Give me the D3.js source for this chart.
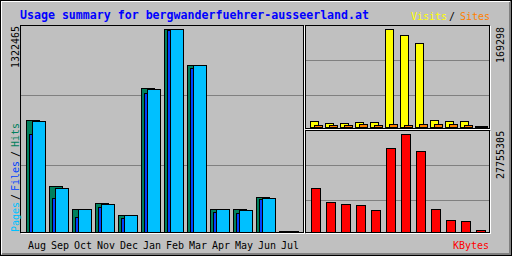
<!DOCTYPE html>
<html>
<head>
<meta charset="utf-8">
<script src="https://cdn.jsdelivr.net/npm/d3@7"></script>
<style>
  body { margin: 0; background: #fff; }
  svg { display: block; }
</style>
</head>
<body>
<script>
// monthly usage figures
const months = ["Aug", "Sep", "Oct", "Nov", "Dec", "Jan", "Feb", "Mar", "Apr", "May", "Jun", "Jul"];
const hits = [725000, 295000, 145000, 184000, 106000, 933000, 1322465, 1083000, 145000, 145500, 223000, 3100];
const files = [634000, 217000, 93000, 158000, 86000, 901000, 1311000, 1064000, 126000, 119000, 210000, 2600];
const pages = [718000, 282000, 144000, 178000, 105000, 927000, 1318000, 1082000, 144000, 139000, 217000, 2900];
const visits = [9100, 5700, 5600, 7400, 7300, 169298, 157700, 143900, 10800, 9000, 9100, 900];
const sites = [2500, 2200, 2100, 4200, 2600, 4300, 2900, 4100, 4200, 4000, 2700, 300];
const kbytes = [12260000, 8300000, 7730000, 7450000, 6030000, 23590000, 27755305, 22740000, 6310000, 3200000, 2920000, 370000];

const title = "Usage summary for bergwanderfuehrer-ausseerland.at";

const width = 512;
const height = 256;
const mono = "'DejaVu Sans Mono', monospace";

const col = {
  bg: "#c0c0c0", dk: "#808080",
  hit: "#00805c", file: "#0040ff", page: "#00c0ff",
  visit: "#ffff00", site: "#ff8000", kbyte: "#ff0000"
};

// gd style rectangle: covers pixel columns x1..x2 and rows y1..y2
const box = (x1, y1, x2, y2) => `M${x1 + 0.5},${y1 + 0.5}H${x2 + 0.5}V${y2 + 0.5}H${x1 + 0.5}Z`;
const hline = (x1, x2, y) => `M${x1},${y + 0.5}H${x2 + 1}`;
const vline = (x, y1, y2) => `M${x + 0.5},${y1}V${y2 + 1}`;

const svg = d3.select("body").append("svg")
  .attr("width", width)
  .attr("height", height);

const g = svg.append("g").attr("shape-rendering", "crispEdges");

// background + 3d border
g.append("rect").attr("width", width).attr("height", height).attr("fill", col.bg);
g.append("path").attr("d", box(0, 0, 511, 255)).attr("fill", "none").attr("stroke", "#000");
g.append("path").attr("d", hline(1, 509, 1) + vline(1, 1, 253)).attr("stroke", "#fff").attr("fill", "none");
g.append("path").attr("d", hline(2, 510, 253) + hline(2, 510, 254) + vline(509, 2, 254) + vline(510, 1, 254))
  .attr("stroke", col.dk).attr("fill", "none");

// grid lines
g.append("path")
  .attr("d", [95, 165].map(y => hline(21, 302, y)).join("") +
             [60, 95].map(y => hline(306, 488, y)).join("") +
             [165, 200].map(y => hline(306, 488, y)).join(""))
  .attr("stroke", col.dk).attr("fill", "none");

// frames
g.append("path")
  .attr("d", vline(20, 25, 232) + hline(20, 303, 25) + hline(20, 303, 232) + vline(303, 25, 232) +
             box(305, 25, 489, 128) + box(305, 130, 489, 232))
  .attr("stroke", "#000").attr("fill", "none");
g.append("path")
  .attr("d", hline(21, 304, 233) + vline(304, 26, 233) +
             hline(306, 490, 129) + vline(490, 26, 129) +
             hline(306, 490, 233) + vline(490, 131, 233))
  .attr("stroke", "#fff").attr("fill", "none");

// main graph: hits / files / pages
const x = d3.scaleBand().domain(months).range([26, 26 + 23 * 12]);
const y = d3.scaleLinear().domain([0, d3.max(hits)]).range([232, 29]);

const mainSeries = [
  { values: hits, off: 0, color: col.hit },
  { values: files, off: 3, color: col.file },
  { values: pages, off: 6, color: col.page }
];

mainSeries.forEach(s => {
  g.append("g")
    .selectAll("path")
    .data(months)
    .join("path")
    .attr("d", (m, i) => {
      const x1 = x(m) + s.off;
      return box(x1, Math.floor(y(s.values[i])), x1 + 13, 232);
    })
    .attr("fill", s.color)
    .attr("stroke", "#000");
});

// right graphs: visits / sites and kbytes
const xr = d3.scaleBand().domain(months).range([310, 310 + 15 * 12]);
const yv = d3.scaleLinear().domain([0, d3.max(visits)]).range([127, 29]);
const yk = d3.scaleLinear().domain([0, d3.max(kbytes)]).range([232, 134]);

const rightSeries = [
  { values: visits, off: 0, w: 8, ys: yv, base: 127, color: col.visit },
  { values: sites, off: 4, w: 8, ys: yv, base: 127, color: col.site },
  { values: kbytes, off: 1, w: 9, ys: yk, base: 232, color: col.kbyte }
];

rightSeries.forEach(s => {
  g.append("g")
    .selectAll("path")
    .data(months)
    .join("path")
    .attr("d", (m, i) => {
      const x1 = xr(m) + s.off;
      return box(x1, Math.floor(s.ys(s.values[i])), x1 + s.w, s.base);
    })
    .attr("fill", s.color)
    .attr("stroke", "#000");
});

// texts
const t = svg.append("g").attr("font-family", mono).attr("font-size", 10);

t.append("text")
  .attr("x", 20).attr("y", 19)
  .attr("font-size", 11.6).attr("font-weight", "bold")
  .attr("fill", "#0000ff")
  .text(title);

[["Visits", 411, col.visit], ["/", 449, "#000"], ["Sites", 460, col.site]].forEach(([s, px, c]) => {
  t.append("text").attr("x", px).attr("y", 20).attr("fill", c).text(s);
});

t.selectAll("text.month")
  .data(months)
  .join("text")
  .attr("class", "month")
  .attr("x", m => x(m) + 2)
  .attr("y", 249)
  .attr("fill", "#000")
  .text(m => m);

t.append("text").attr("x", 453).attr("y", 249).attr("fill", col.kbyte).text("KBytes");

// rotated labels
const up = (s, px, py, c) =>
  t.append("text")
    .attr("transform", `translate(${px},${py}) rotate(-90)`)
    .attr("fill", c)
    .text(s);

up(d3.max(hits), 19, 68, "#000");
up("Pages", 19, 232, col.page);
up("/", 19, 200, "#000");
up("Files", 19, 191, col.file);
up("/", 19, 157, "#000");
up("Hits", 19, 147, col.hit);
up(d3.max(visits), 504, 63, "#000");
up(d3.max(kbytes), 504, 179, "#000");
</script>
</body>
</html>
